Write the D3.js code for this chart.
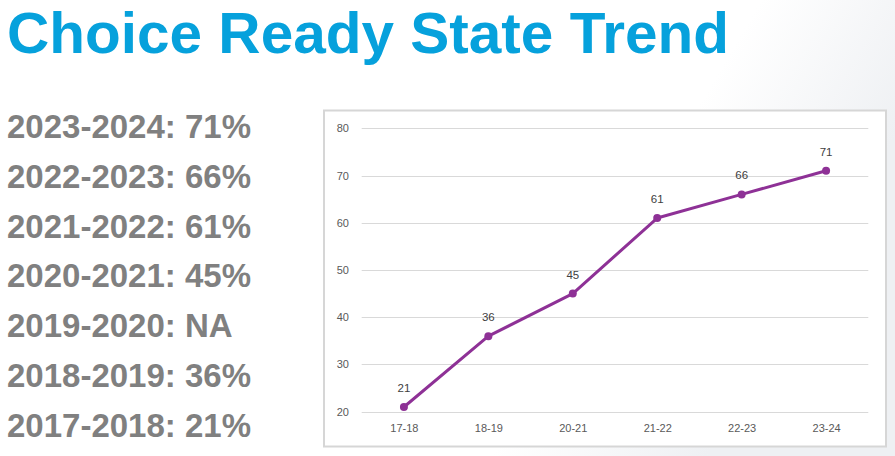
<!DOCTYPE html>
<html><head><meta charset="utf-8">
<script src="https://cdn.jsdelivr.net/npm/d3@7"></script>
<style>html,body{margin:0;padding:0;background:#fff;}svg{display:block;}</style>
</head><body>
<script>
const categories = ["17-18","18-19","20-21","21-22","22-23","23-24"];
const values = [21,36,45,61,66,71];
const yTicks = [20,30,40,50,60,70,80];
const summaryLines = ["2023-2024: 71%","2022-2023: 66%","2021-2022: 61%","2020-2021: 45%","2019-2020: NA","2018-2019: 36%","2017-2018: 21%"];
const title = "Choice Ready State Trend";

const W = 895, H = 456;
const svg = d3.select("body").append("svg").attr("width", W).attr("height", H);

const defs = svg.append("defs");
const bg = defs.append("linearGradient").attr("id","bg").attr("x1","0").attr("y1","0").attr("x2","1").attr("y2","0.3");
bg.append("stop").attr("offset","0.78").attr("stop-color","#ffffff");
bg.append("stop").attr("offset","1").attr("stop-color","#eef0f3");
svg.append("rect").attr("width",W).attr("height",H).attr("fill","url(#bg)");

// Title
svg.append("text").attr("x",7).attr("y",52.5)
  .attr("font-family","Liberation Sans, Arial, sans-serif").attr("font-weight","bold")
  .attr("font-size",57).attr("fill","#06a1dc")
  .attr("textLength",722).attr("lengthAdjust","spacingAndGlyphs")
  .text(title);

// Left summary
svg.append("g").selectAll("text").data(summaryLines).join("text")
  .attr("x",7).attr("y",(d,i)=>138 + i*49.8)
  .attr("font-family","Liberation Sans, Arial, sans-serif").attr("font-weight","bold")
  .attr("font-size",33).attr("fill","#808080")
  .text(d=>d);

// Chart frame
svg.append("rect").attr("x",324).attr("y",110.5).attr("width",562).attr("height",336)
  .attr("fill","#fff").attr("stroke","#d6d6d6").attr("stroke-width",2);

const x = d3.scalePoint().domain(categories).range([361.7,868.3]).padding(0.5);
const y = d3.scaleLinear().domain([20,80]).range([411.7,128.3]);

// Grid
svg.append("g").selectAll("line").data(yTicks).join("line")
  .attr("x1",361.7).attr("x2",868.3)
  .attr("y1",d=>Math.round(y(d))+0.5).attr("y2",d=>Math.round(y(d))+0.5)
  .attr("stroke","#d9d9d9").attr("stroke-width",1);

// Y axis labels
const yAxis = d3.axisLeft(y).tickValues(yTicks).tickSize(0).tickPadding(0);
const gy = svg.append("g").attr("transform","translate(349,0)").call(yAxis);
gy.select(".domain").remove();
gy.selectAll("text").attr("font-family","Liberation Sans, Arial, sans-serif").attr("font-size",11).attr("fill","#595959");

// X axis labels
const xAxis = d3.axisBottom(x).tickSize(0).tickPadding(0);
const gx = svg.append("g").attr("transform","translate(0,424)").call(xAxis);
gx.select(".domain").remove();
gx.selectAll("text").attr("font-family","Liberation Sans, Arial, sans-serif").attr("font-size",11).attr("fill","#595959");

// Line
const line = d3.line().x((d,i)=>x(categories[i])).y(d=>y(d));
svg.append("path").datum(values).attr("d",line)
  .attr("fill","none").attr("stroke","#8e3196").attr("stroke-width",3).attr("stroke-linejoin","round");

svg.append("g").selectAll("circle").data(values).join("circle")
  .attr("cx",(d,i)=>x(categories[i])).attr("cy",d=>y(d)).attr("r",4)
  .attr("fill","#8e3196");

// Data labels
svg.append("g").selectAll("text").data(values).join("text")
  .attr("x",(d,i)=>x(categories[i])).attr("y",d=>y(d)-15)
  .attr("text-anchor","middle")
  .attr("font-family","Liberation Sans, Arial, sans-serif").attr("font-size",11.5).attr("fill","#404040")
  .text(d=>d);
</script>
</body></html>
